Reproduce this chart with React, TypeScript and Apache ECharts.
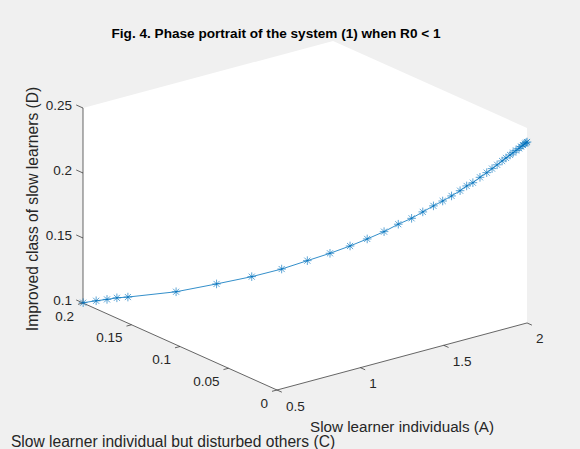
import React, { useEffect, useRef } from "react";
import * as echarts from "echarts";

// Trajectory data (A: slow learner individuals, C: disturbed others, D: improved class)
const A = [0.501, 0.544, 0.58, 0.616, 0.653, 0.814, 0.952, 1.07, 1.171, 1.258, 1.334, 1.402, 1.46, 1.517, 1.565, 1.61, 1.648, 1.684, 1.715, 1.745, 1.774, 1.796, 1.817, 1.841, 1.864, 1.882, 1.899, 1.916, 1.929, 1.943, 1.953, 1.963, 1.973, 1.98, 1.986, 1.993, 1.997, 2.0];
const C = [0.2, 0.194, 0.189, 0.185, 0.18, 0.158, 0.14, 0.124, 0.1105, 0.099, 0.0887, 0.0797, 0.072, 0.0644, 0.058, 0.052, 0.047, 0.0422, 0.038, 0.034, 0.0302, 0.0272, 0.0244, 0.0212, 0.0182, 0.0158, 0.0135, 0.0113, 0.0095, 0.0077, 0.0063, 0.005, 0.0036, 0.0027, 0.0018, 0.0009, 0.0005, 0];
const D = [0.1002, 0.1022, 0.1037, 0.105, 0.106, 0.1119, 0.1192, 0.1261, 0.133, 0.1403, 0.1468, 0.1531, 0.1591, 0.1653, 0.1715, 0.1765, 0.1818, 0.1868, 0.1909, 0.1951, 0.1994, 0.2033, 0.206, 0.2104, 0.2142, 0.2175, 0.2206, 0.2237, 0.2262, 0.2286, 0.2305, 0.2323, 0.234, 0.2355, 0.2367, 0.2379, 0.2386, 0.2392];

// Axis ranges and ticks
const aRange = [0.5, 2];
const cRange = [0, 0.2];
const dRange = [0.1, 0.25];
const aTicks = [0.5, 1, 1.5, 2];
const aTickLabels = ["0.5", "1", "1.5", "2"];
const cTicks = [0, 0.05, 0.1, 0.15, 0.2];
const cTickLabels = ["0", "0.05", "0.1", "0.15", "0.2"];
const dTicks = [0.1, 0.15, 0.2, 0.25];
const dTickLabels = ["0.1", "0.15", "0.2", "0.25"];

const TITLE = "Fig. 4. Phase portrait of the system (1) when R0 < 1";
const A_NAME = "Slow learner individuals (A)";
const C_NAME = "Slow learner individual but disturbed others (C)";
const D_NAME = "Improved class of slow learners (D)";

// Oblique projection of the 3D box (screen units)
const ORIGIN = [277, 390];
const EA = [166.7, -44.7];
const EC = [-970, -435];
const ED = [0, -1300];

function proj(a: number, c: number, d: number): number[] {
  const da = a - aRange[0];
  const dc = c - cRange[0];
  const dd = d - dRange[0];
  return [
    ORIGIN[0] + da * EA[0] + dc * EC[0] + dd * ED[0],
    ORIGIN[1] + da * EA[1] + dc * EC[1] + dd * ED[1],
  ];
}

const FONT = "'Liberation Sans', Arial, Helvetica, sans-serif";
const AX_COLOR = "#262626";
const BLUE = "#0072BD";

export default function App() {
  const ref = useRef<HTMLDivElement>(null);
  useEffect(() => {
    document.body.style.margin = "0";
    const chart = echarts.init(ref.current!, null, { renderer: "svg" });

    const boxRender = (params: any, api: any) => {
      const c = (p: number[]) => api.coord(p);
      const [a0, a1] = aRange;
      const [c0, c1] = cRange;
      const [d0, d1] = dRange;
      const hex = [
        proj(a0, c1, d0),
        proj(a0, c0, d0),
        proj(a1, c0, d0),
        proj(a1, c0, d1),
        proj(a1, c1, d1),
        proj(a0, c1, d1),
      ].map(c);
      const children: any[] = [
        { type: "polygon", shape: { points: hex }, style: { fill: "#ffffff", stroke: "none" } },
      ];
      const line = (p1: number[], p2: number[]) => {
        const q1 = c(p1);
        const q2 = c(p2);
        children.push({
          type: "line",
          shape: { x1: q1[0], y1: q1[1], x2: q2[0], y2: q2[1] },
          style: { stroke: AX_COLOR, lineWidth: 0.7 },
        });
      };
      const text = (p: number[], dx: number, dy: number, s: string, align: string) => {
        const q = c(p);
        children.push({
          type: "text",
          x: q[0] + dx,
          y: q[1] + dy,
          style: {
            text: s,
            fill: AX_COLOR,
            fontSize: 13.5,
            fontFamily: FONT,
            align,
            verticalAlign: "middle",
          },
        });
      };
      // axis lines
      line(proj(a0, c0, d0), proj(a0, c1, d0)); // C axis
      line(proj(a0, c0, d0), proj(a1, c0, d0)); // A axis
      line(proj(a0, c1, d0), proj(a0, c1, d1)); // D axis
      // ticks (outward)
      aTicks.forEach((t, i) => {
        line(proj(t, c0, d0), proj(t, c0 - 0.005, d0));
        text(proj(t, c0, d0), 9, 16, aTickLabels[i], "left");
      });
      cTicks.forEach((t, i) => {
        line(proj(a0, t, d0), proj(a0 - 0.03, t, d0));
        text(proj(a0, t, d0), -9, 13, cTickLabels[i], "right");
      });
      dTicks.forEach((t, i) => {
        line(proj(a0, c1, t), proj(a0, c1 + 0.007, t));
        text(proj(a0, c1, t), -11, -3, dTickLabels[i], "right");
      });
      return { type: "group", children };
    };

    const starRender = (params: any, api: any) => {
      const p = api.coord([api.value(0), api.value(1)]);
      const r = 4.3;
      const k = r * 0.707;
      const segs = [
        [0, -r, 0, r],
        [-r, 0, r, 0],
        [-k, -k, k, k],
        [-k, k, k, -k],
      ];
      return {
        type: "group",
        children: segs.map((s) => ({
          type: "line",
          shape: { x1: p[0] + s[0], y1: p[1] + s[1], x2: p[0] + s[2], y2: p[1] + s[3] },
          style: { stroke: BLUE, lineWidth: 0.8, opacity: 0.8 },
        })),
      };
    };

    const pts = A.map((a, i) => proj(a, C[i], D[i]));

    chart.setOption({
      animation: false,
      backgroundColor: "#f0f0f0",
      grid: { left: 0, right: 0, top: 0, bottom: 0 },
      xAxis: { type: "value", min: 0, max: 580, show: false },
      yAxis: { type: "value", min: 0, max: 449, inverse: true, show: false },
      graphic: [
        {
          type: "text",
          x: 276,
          y: 33,
          style: {
            text: TITLE,
            fill: "#000",
            fontSize: 13.6,
            fontWeight: "bold",
            fontFamily: FONT,
            align: "center",
            verticalAlign: "middle",
          },
        },
        {
          type: "text",
          x: 402,
          y: 426,
          style: { text: A_NAME, fill: AX_COLOR, fontSize: 15.2, fontFamily: FONT, align: "center", verticalAlign: "middle" },
        },
        {
          type: "text",
          x: 173,
          y: 441,
          style: { text: C_NAME, fill: AX_COLOR, fontSize: 15.6, fontFamily: FONT, align: "center", verticalAlign: "middle" },
        },
        {
          type: "text",
          x: 32,
          y: 209,
          rotation: Math.PI / 2,
          style: { text: D_NAME, fill: AX_COLOR, fontSize: 15.6, fontFamily: FONT, align: "center", verticalAlign: "middle" },
        },
      ],
      series: [
        {
          type: "custom",
          renderItem: boxRender,
          data: [[0, 0]],
          silent: true,
          z: 1,
        },
        {
          type: "line",
          data: pts,
          showSymbol: false,
          lineStyle: { color: BLUE, width: 0.8 },
          silent: true,
          z: 2,
        },
        {
          type: "custom",
          renderItem: starRender,
          data: pts,
          silent: true,
          z: 3,
        },
      ],
    });
    return () => chart.dispose();
  }, []);
  return <div ref={ref} style={{ width: 580, height: 449 }} />;
}
